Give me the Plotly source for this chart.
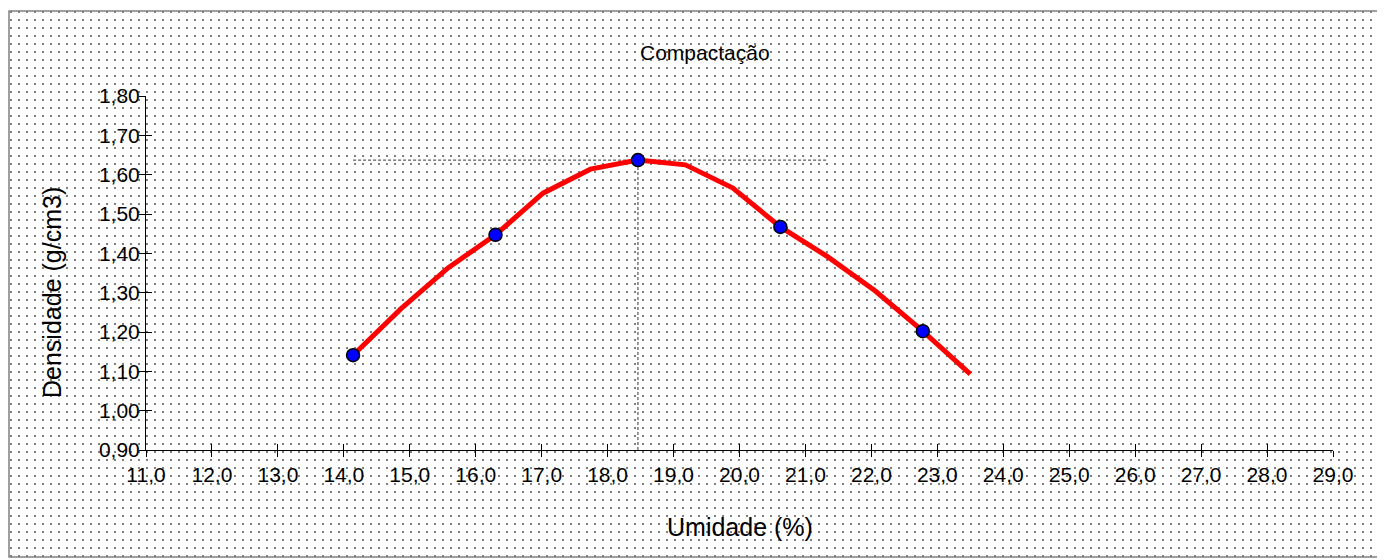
import base64
import plotly.graph_objects as go

# ---- data ----
umidade = [14.14, 16.30, 18.46, 20.62, 22.78]
densidade = [1.141, 1.447, 1.637, 1.467, 1.202]

curva_x = [14.14, 14.86, 15.58, 16.30, 17.02, 17.74, 18.46, 19.18, 19.90, 20.62, 21.34, 22.06, 22.78, 23.50]
curva_y = [1.141, 1.258, 1.363, 1.447, 1.553, 1.614, 1.637, 1.625, 1.566, 1.467, 1.391, 1.304, 1.202, 1.093]

umidade_otima = 18.46
densidade_max = 1.637
linha_h_x = [14.14, 21.34]

x_ticks = [11, 12, 13, 14, 15, 16, 17, 18, 19, 20, 21, 22, 23, 24, 25, 26, 27, 28, 29]
y_ticks = [0.9, 1.0, 1.1, 1.2, 1.3, 1.4, 1.5, 1.6, 1.7, 1.8]

# the page body has an 8px margin: figure pixel = page pixel - 8
OFF = 8
W, H = 1385 - OFF, 560 - OFF
L, R, T, B = 146 - OFF, 52, 96 - OFF, 110
PW, PH = W - L - R, H - T - B

def px(page_x):
    return (page_x - OFF - L) / PW

def py(page_y):
    return (H - B - (page_y - OFF)) / PH

FONT = "Liberation Sans, Arial, sans-serif"

# dotted background (decoration)
svg = (f'<svg xmlns="http://www.w3.org/2000/svg" width="{W}" height="{H}" viewBox="0 0 {W} {H}">'
       '<defs><pattern id="d" width="8" height="8" patternUnits="userSpaceOnUse">'
       '<rect x="2" y="3" width="2" height="2" fill="#808080"/></pattern></defs>'
       f'<rect width="{W}" height="{H}" fill="url(#d)"/></svg>')
src = "data:image/svg+xml;base64," + base64.b64encode(svg.encode()).decode()

fig = go.Figure()

# guide lines
fig.add_trace(go.Scatter(x=linha_h_x, y=[densidade_max, densidade_max], mode="lines",
                         line=dict(color="#333333", width=1, dash="3px,2px"),
                         hoverinfo="skip", showlegend=False))
fig.add_trace(go.Scatter(x=[umidade_otima, umidade_otima], y=[y_ticks[0], densidade_max], mode="lines",
                         line=dict(color="#333333", width=1, dash="3px,2px"),
                         hoverinfo="skip", showlegend=False))
# fitted curve
fig.add_trace(go.Scatter(x=curva_x, y=curva_y, mode="lines",
                         line=dict(color="#FF0000", width=5), showlegend=False))
# measured points
fig.add_trace(go.Scatter(x=umidade, y=densidade, mode="markers",
                         marker=dict(color="#0000FF", size=13, line=dict(color="black", width=1.5)),
                         showlegend=False))
# invisible trace on overlay axes (for crossing ticks)
fig.add_trace(go.Scatter(x=[x_ticks[0]], y=[y_ticks[0]], xaxis="x2", yaxis="y2", mode="markers",
                         marker=dict(opacity=0), hoverinfo="skip", showlegend=False))

axis_common = dict(showgrid=False, zeroline=False, color="black")

fig.update_layout(
    width=W, height=H,
    margin=dict(l=L, r=R, t=T, b=B, autoexpand=False),
    paper_bgcolor="white",
    plot_bgcolor="rgba(0,0,0,0)",
    separators=",.",
    font=dict(family=FONT, color="black", size=21),
    xaxis=dict(range=[11, 29], tickvals=x_ticks, tickformat=".1f", ticks="outside", ticklen=6,
               tickwidth=1, tickcolor="black", showline=True, linecolor="black", linewidth=1,
               tickfont=dict(size=21, family=FONT), **axis_common),
    yaxis=dict(range=[0.9, 1.8], tickvals=y_ticks, tickformat=".2f", ticks="outside", ticklen=6,
               tickwidth=1, tickcolor="black", showline=True, linecolor="black", linewidth=1,
               ticklabelstandoff=-5,
               tickfont=dict(size=21, family=FONT), **axis_common),
    xaxis2=dict(range=[11, 29], tickvals=x_ticks, ticks="inside", ticklen=6, tickwidth=1,
                tickcolor="black", showticklabels=False, showline=False, overlaying="x",
                anchor="y2", side="bottom", **axis_common),
    yaxis2=dict(range=[0.9, 1.8], tickvals=y_ticks, ticks="inside", ticklen=6, tickwidth=1,
                tickcolor="black", showticklabels=False, showline=False, overlaying="y",
                anchor="x2", side="left", **axis_common),
    images=[dict(source=src, xref="paper", yref="paper", x=-L / PW, y=1 + T / PH,
                 sizex=W / PW, sizey=H / PH, xanchor="left", yanchor="top",
                 sizing="stretch", layer="below")],
    shapes=[
        dict(type="rect", xref="paper", yref="paper", x0=px(9), x1=px(1382), y0=py(557), y1=py(11),
             line=dict(color="#808080", width=1.5), layer="below"),
    ],
    annotations=[
        dict(text="Compactação", xref="paper", yref="paper", x=px(705), y=py(52),
             xanchor="center", yanchor="middle", showarrow=False, font=dict(size=21, family=FONT)),
        dict(text="Umidade (%)", xref="paper", yref="paper", x=px(740), y=py(527),
             xanchor="center", yanchor="middle", showarrow=False, font=dict(size=25, family=FONT)),
        dict(text="Densidade (g/cm3)", xref="paper", yref="paper", x=px(52), y=py(293),
             xanchor="center", yanchor="middle", textangle=-90, showarrow=False,
             font=dict(size=25, family=FONT)),
    ],
)

fig.write_html("out.html")
